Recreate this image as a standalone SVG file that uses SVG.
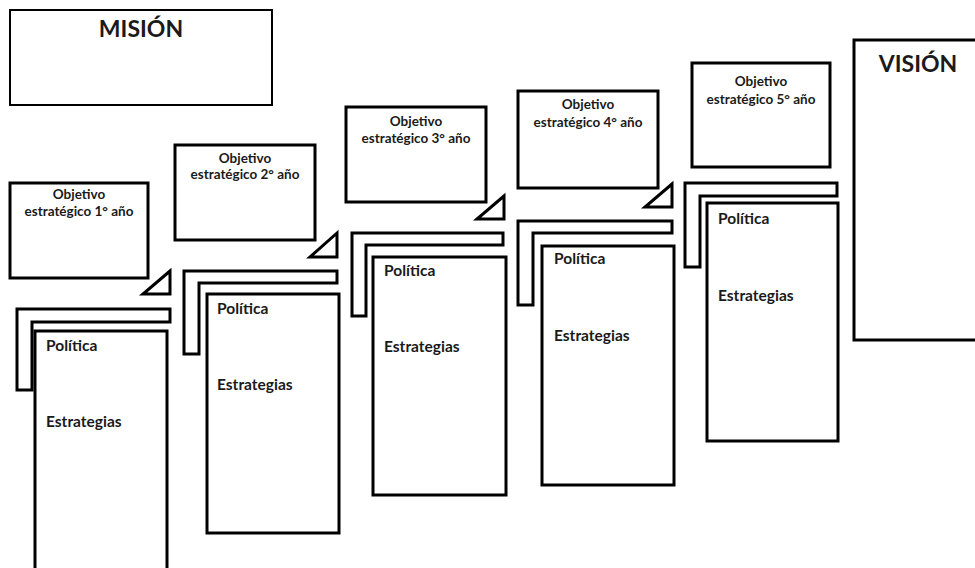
<svg xmlns="http://www.w3.org/2000/svg" width="975" height="568" viewBox="0 0 975 568">
  <style>
    .box { fill: #ffffff; stroke: #000000; stroke-width: 3; }
    .thin { fill: #ffffff; stroke: #000000; stroke-width: 2; }
    .shape { fill: #ffffff; stroke: #000000; stroke-width: 3; stroke-linejoin: miter; }
    text { font-family: Lato, "Open Sans", "Liberation Sans", sans-serif; font-weight: bold; fill: #1a1a1a; }
    .title { font-size: 23px; text-anchor: middle; }
    .obj { font-size: 13.5px; text-anchor: middle; }
    .lbl { font-size: 15.5px; }
  </style>
  <rect width="975" height="568" fill="#ffffff"/>

  <!-- mission and vision -->
  <g id="mision">
    <rect class="thin" x="10" y="10" width="262" height="95"/>
    <text class="title" x="141" y="37">MISIÓN</text>
  </g>
  <g id="vision">
    <rect class="box" x="854" y="40" width="130" height="300"/>
    <text class="title" x="918" y="72">VISIÓN</text>
  </g>

  <!-- yearly objectives -->
  <g id="objetivo-1">
    <rect class="box" x="10" y="183" width="138" height="95"/>
    <text class="obj" x="79" y="199">Objetivo</text>
    <text class="obj" x="79" y="216">estratégico 1° año</text>
  </g>
  <g id="objetivo-2">
    <rect class="box" x="175" y="145" width="140" height="95"/>
    <text class="obj" x="245" y="163">Objetivo</text>
    <text class="obj" x="245" y="179">estratégico 2° año</text>
  </g>
  <g id="objetivo-3">
    <rect class="box" x="346" y="107" width="140" height="95"/>
    <text class="obj" x="416" y="126">Objetivo</text>
    <text class="obj" x="416" y="143">estratégico 3° año</text>
  </g>
  <g id="objetivo-4">
    <rect class="box" x="518" y="91" width="140" height="97"/>
    <text class="obj" x="588" y="109">Objetivo</text>
    <text class="obj" x="588" y="127">estratégico 4° año</text>
  </g>
  <g id="objetivo-5">
    <rect class="box" x="692" y="63" width="138" height="104"/>
    <text class="obj" x="761" y="86">Objetivo</text>
    <text class="obj" x="761" y="104">estratégico 5° año</text>
  </g>

  <!-- step connectors: corner bars and triangular heads -->
  <g id="connectors">
    <path class="shape" d="M17 309 H170 V322 H32 V390 H17 Z"/>
    <path class="shape" d="M170 271 L143 294 H170 Z"/>
    <path class="shape" d="M184 271 H337 V283 H199 V354 H184 Z"/>
    <path class="shape" d="M337 233 L310 257 H337 Z"/>
    <path class="shape" d="M352 233 H503 V245 H366 V316 H352 Z"/>
    <path class="shape" d="M504 196 L477 219 H504 Z"/>
    <path class="shape" d="M518 221 H672 V233 H533 V305 H518 Z"/>
    <path class="shape" d="M672 184 L645 207 H672 Z"/>
    <path class="shape" d="M685 183 H837 V196 H700 V267 H685 Z"/>
  </g>

  <!-- policy and strategy panels -->
  <g id="politica-1">
    <rect class="box" x="35" y="331" width="132" height="245"/>
    <text class="lbl" x="46" y="351">Política</text>
    <text class="lbl" x="46" y="427">Estrategias</text>
  </g>
  <g id="politica-2">
    <rect class="box" x="207" y="294" width="132" height="239"/>
    <text class="lbl" x="217" y="314">Política</text>
    <text class="lbl" x="217" y="390">Estrategias</text>
  </g>
  <g id="politica-3">
    <rect class="box" x="373" y="257" width="133" height="238"/>
    <text class="lbl" x="384" y="276">Política</text>
    <text class="lbl" x="384" y="352">Estrategias</text>
  </g>
  <g id="politica-4">
    <rect class="box" x="542" y="246" width="132" height="239"/>
    <text class="lbl" x="554" y="264">Política</text>
    <text class="lbl" x="554" y="341">Estrategias</text>
  </g>
  <g id="politica-5">
    <rect class="box" x="707" y="203" width="131" height="238"/>
    <text class="lbl" x="718" y="224">Política</text>
    <text class="lbl" x="718" y="301">Estrategias</text>
  </g>
</svg>
